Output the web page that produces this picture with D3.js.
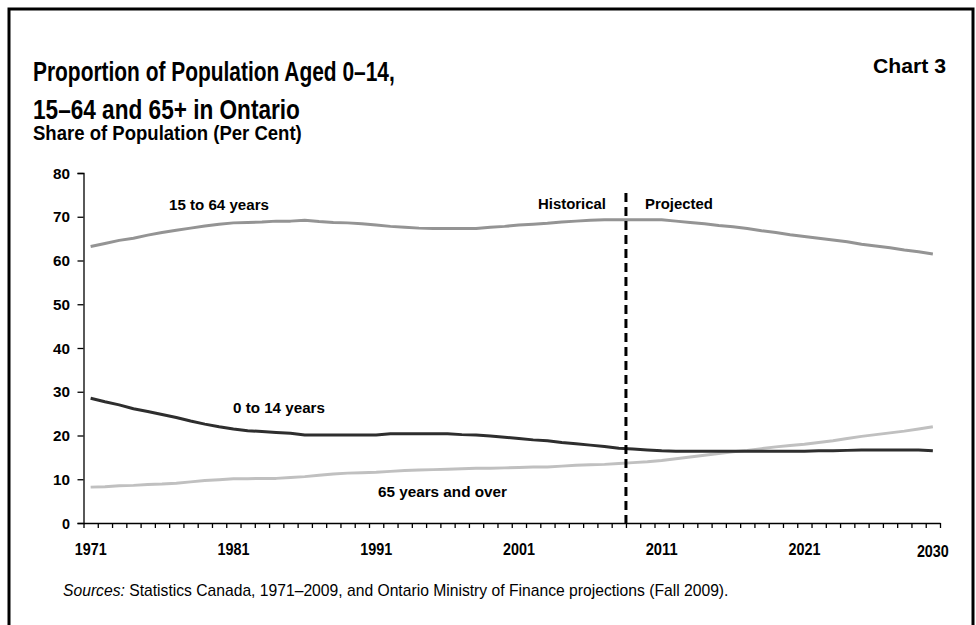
<!DOCTYPE html>
<html>
<head>
<meta charset="utf-8">
<script src="https://cdn.jsdelivr.net/npm/d3@7"></script>
<style>
  html, body { margin: 0; padding: 0; background: #fff; }
  svg { display: block; }
</style>
</head>
<body>
<svg id="chart" width="976" height="625"></svg>
<script>
// Years covered by the series (historical 1971–2009, projected to 2030)
const years = d3.range(1971, 2031);

// Share of population aged 15 to 64 (per cent)
const age15to64 = [
  63.2, 63.9, 64.6, 65.1, 65.8, 66.4, 66.9, 67.4, 67.9, 68.3,
  68.6, 68.7, 68.8, 69.0, 69.0, 69.2, 68.9, 68.7, 68.6, 68.4,
  68.1, 67.8, 67.6, 67.4, 67.3, 67.3, 67.3, 67.3, 67.6, 67.8,
  68.1, 68.3, 68.5, 68.8, 69.0, 69.2, 69.3, 69.3, 69.3, 69.3,
  69.3, 69.0, 68.7, 68.4, 68.0, 67.7, 67.3, 66.8, 66.4, 65.9,
  65.5, 65.1, 64.7, 64.3, 63.7, 63.3, 62.9, 62.4, 62.0, 61.5
];

// Share of population aged 0 to 14 (per cent)
const age0to14 = [
  28.5, 27.7, 27.0, 26.1, 25.5, 24.8, 24.1, 23.3, 22.6, 22.0,
  21.5, 21.1, 20.9, 20.7, 20.5, 20.1, 20.1, 20.1, 20.1, 20.1,
  20.1, 20.4, 20.4, 20.4, 20.4, 20.4, 20.2, 20.1, 19.9, 19.6,
  19.3, 19.0, 18.8, 18.4, 18.1, 17.8, 17.5, 17.1, 16.9, 16.7,
  16.5, 16.4, 16.4, 16.4, 16.4, 16.4, 16.4, 16.4, 16.4, 16.4,
  16.4, 16.5, 16.5, 16.6, 16.7, 16.7, 16.7, 16.7, 16.7, 16.5
];

// Share of population aged 65 and over (per cent)
const age65plus = [
   8.2,  8.3,  8.5,  8.6,  8.8,  8.9,  9.1,  9.4,  9.7,  9.9,
  10.1, 10.1, 10.2, 10.2, 10.4, 10.6, 10.9, 11.2, 11.4, 11.5,
  11.6, 11.8, 12.0, 12.1, 12.2, 12.3, 12.4, 12.5, 12.5, 12.6,
  12.7, 12.8, 12.8, 13.0, 13.2, 13.3, 13.4, 13.6, 13.8, 14.0,
  14.3, 14.7, 15.1, 15.5, 15.9, 16.3, 16.6, 17.0, 17.4, 17.7,
  18.0, 18.4, 18.8, 19.3, 19.8, 20.2, 20.6, 21.0, 21.5, 22.0
];

// Axis labels
const yearLabels = [1971, 1981, 1991, 2001, 2011, 2021, 2030];
const yTicks = [0, 10, 20, 30, 40, 50, 60, 70, 80];

// Boundary between historical and projected data
const splitYear = 2009;

const svg = d3.select("#chart");
const font = '"Liberation Sans", Arial, sans-serif';
const NARROW = 0.8; // horizontal squeeze giving a condensed face

// Places a text at (x, y) and squeezes it horizontally about its anchor.
// If a target width is given the squeeze is chosen so the text fills it.
function label(parent, x, y, str, size, opts = {}) {
  const g = parent.append("g").attr("transform", `translate(${x},${y})`);
  const t = g.append("text")
    .attr("font-family", font)
    .attr("font-size", size)
    .attr("font-weight", opts.weight || "bold")
    .attr("fill", "#000")
    .attr("text-anchor", opts.anchor || "start");
  if (opts.parts) {
    opts.parts.forEach(p => t.append("tspan").attr("font-style", p.style || "normal").text(p.text));
  } else {
    t.text(str);
  }
  let s = NARROW;
  if (opts.width) s = opts.width / t.node().getComputedTextLength();
  t.attr("transform", `scale(${s},1)`);
  return t;
}

// Frame
svg.append("rect")
  .attr("x", 9).attr("y", 9)
  .attr("width", 964).attr("height", 700)
  .attr("fill", "none").attr("stroke", "#000").attr("stroke-width", 3);

// Titles
label(svg, 33, 81, "Proportion of Population Aged 0\u201314,", 28, { width: 362 });
label(svg, 33, 119, "15\u201364 and 65+ in Ontario", 28, { width: 267 });
label(svg, 946, 73, "Chart 3", 21, { anchor: "end", width: 73 });
label(svg, 33, 140, "Share of Population (Per Cent)", 19.5, { width: 269 });

// Scales: each year occupies one slot; points sit at slot centres
const x = d3.scaleLinear().domain([1971, 2031]).range([83.5, 940]);
const y = d3.scaleLinear().domain([0, 80]).range([523, 173]);
const xc = yr => x(yr + 0.5);

// Y axis
const yAxis = svg.append("g")
  .attr("transform", "translate(83.5,0)")
  .call(d3.axisLeft(y).tickValues(yTicks).tickSize(6).tickFormat(""));
yAxis.select(".domain").attr("stroke", "#000").attr("stroke-width", 1.3);
yAxis.selectAll(".tick line").attr("stroke", "#000").attr("stroke-width", 1.3);
const yLab = svg.append("g");
yTicks.forEach(v => label(yLab, 70, y(v) + 5.5, String(v), 15.5, { anchor: "end", width: v === 0 ? 8 : 17 }));

// X axis: tick marks at slot boundaries
const xAxis = svg.append("g")
  .attr("transform", "translate(0,523)")
  .call(d3.axisBottom(x).tickValues(d3.range(1971, 2032)).tickSize(5).tickSizeOuter(0).tickFormat(""));
xAxis.select(".domain").attr("stroke", "#000").attr("stroke-width", 1.3);
xAxis.selectAll(".tick line").attr("stroke", "#000").attr("stroke-width", 1.3);

const xLab = svg.append("g");
yearLabels.forEach(yr => label(xLab, xc(yr), yr === 2030 ? 557 : 555, String(yr), 16, { anchor: "middle", width: 32 }));

// Series lines
const line = d3.line()
  .x((d, i) => xc(years[i]))
  .y(d => y(d));

const series = [
  { values: age65plus, color: "#c0c0c0" },
  { values: age15to64, color: "#949494" },
  { values: age0to14, color: "#2e2e2e" }
];
svg.append("g").selectAll("path").data(series).join("path")
  .attr("d", d => line(d.values))
  .attr("fill", "none")
  .attr("stroke", d => d.color)
  .attr("stroke-width", 3)
  .attr("stroke-linejoin", "round");

// Historical / projected divider
svg.append("line")
  .attr("x1", x(splitYear)).attr("x2", x(splitYear))
  .attr("y1", 193).attr("y2", 523)
  .attr("stroke", "#000").attr("stroke-width", 3)
  .attr("stroke-dasharray", "9,5");

// Annotations
const ann = svg.append("g");
label(ann, 169, 210, "15 to 64 years", 15.5, { width: 100 });
label(ann, 233, 413, "0 to 14 years", 15.5, { width: 92 });
label(ann, 378, 497, "65 years and over", 15.5, { width: 129 });
label(ann, 606, 209, "Historical", 15.5, { anchor: "end", width: 68 });
label(ann, 645, 209, "Projected", 15.5, { width: 68 });

// Source note
label(svg, 63, 596, null, 16, {
  weight: "normal",
  width: 666,
  parts: [
    { text: "Sources:", style: "italic" },
    { text: " Statistics Canada, 1971\u20132009, and Ontario Ministry of Finance projections (Fall 2009)." }
  ]
});
</script>
</body>
</html>
